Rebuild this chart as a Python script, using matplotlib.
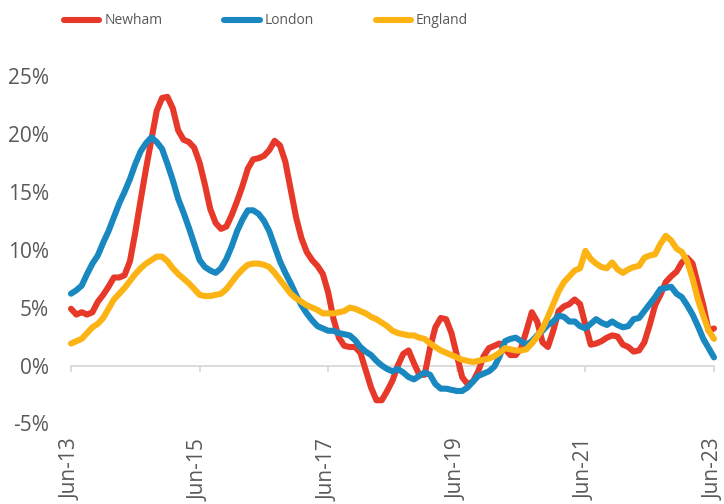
import matplotlib
matplotlib.use("Agg")
import matplotlib.pyplot as plt
from matplotlib import font_manager

# ---------------- data ----------------
series_names = ["Newham", "London", "England"]

newham = [4.9, 4.4, 4.6, 4.4, 4.6, 5.5, 6.1, 6.8, 7.6, 7.6,
          7.8, 9.0, 11.5, 14.3, 17.0, 19.5, 22.0, 23.1, 23.2, 22.2,
          20.3, 19.5, 19.3, 18.8, 17.5, 15.6, 13.5, 12.3, 11.8, 12.0,
          13.0, 14.2, 15.5, 17.0, 17.8, 17.9, 18.1, 18.6, 19.4, 19.0,
          17.6, 15.2, 12.8, 11.0, 9.8, 9.1, 8.6, 7.9, 6.3, 4.0,
          2.4, 1.7, 1.6, 1.6, 1.1, -0.4, -1.9, -3.0, -3.0, -2.2,
          -1.3, 0.0, 1.0, 1.3, 0.2, -0.8, -0.8, 1.5, 3.3, 4.1,
          4.0, 2.8, 0.9, -1.0, -1.6, -1.4, -0.5, 0.8, 1.5, 1.7,
          1.9, 1.4, 0.9, 0.9, 1.5, 3.0, 4.6, 3.8, 2.0, 1.6,
          3.0, 4.7, 5.1, 5.3, 5.7, 5.3, 3.5, 1.8, 1.9, 2.1,
          2.4, 2.6, 2.5, 1.8, 1.6, 1.2, 1.3, 2.0, 3.5, 5.2,
          6.1, 7.2, 7.7, 8.1, 8.9, 9.3, 8.8, 7.0, 5.2, 3.0,
          3.2]

london = [6.2, 6.5, 6.9, 7.9, 8.8, 9.5, 10.6, 11.6, 12.8, 14.0,
          15.0, 16.1, 17.4, 18.5, 19.2, 19.7, 19.3, 18.7, 17.4, 16.0,
          14.4, 13.2, 11.9, 10.5, 9.1, 8.5, 8.2, 8.0, 8.4, 9.2,
          10.3, 11.6, 12.6, 13.4, 13.4, 13.1, 12.5, 11.6, 10.3, 9.0,
          8.0, 7.1, 6.1, 5.2, 4.5, 3.9, 3.4, 3.2, 3.0, 3.0,
          2.8, 2.7, 2.6, 2.2, 1.6, 1.2, 0.9, 0.4, 0.0, -0.3,
          -0.5, -0.3, -0.6, -1.0, -1.2, -0.9, -0.6, -0.8, -1.6, -2.0,
          -2.0, -2.1, -2.2, -2.2, -1.9, -1.4, -0.9, -0.7, -0.5, -0.1,
          0.8, 2.1, 2.3, 2.4, 2.1, 1.8, 2.1, 2.6, 3.0, 3.5,
          3.8, 4.3, 4.2, 3.8, 3.8, 3.4, 3.2, 3.6, 4.0, 3.7,
          3.5, 3.8, 3.5, 3.3, 3.4, 4.0, 4.1, 4.7, 5.3, 5.9,
          6.6, 6.7, 6.8, 6.2, 5.9, 5.2, 4.4, 3.4, 2.3, 1.5,
          0.7]

england = [1.9, 2.1, 2.3, 2.8, 3.3, 3.6, 4.1, 4.9, 5.7, 6.2,
           6.7, 7.3, 7.9, 8.4, 8.8, 9.1, 9.4, 9.4, 9.0, 8.4,
           7.9, 7.5, 7.1, 6.6, 6.1, 6.0, 6.0, 6.1, 6.2, 6.6,
           7.2, 7.8, 8.3, 8.7, 8.8, 8.8, 8.7, 8.5, 8.0, 7.4,
           6.8, 6.2, 5.8, 5.5, 5.2, 5.0, 4.8, 4.5, 4.5, 4.5,
           4.6, 4.7, 5.0, 4.9, 4.7, 4.5, 4.2, 4.0, 3.7, 3.4,
           3.0, 2.8, 2.7, 2.6, 2.6, 2.4, 2.3, 1.9, 1.6, 1.3,
           1.1, 0.9, 0.7, 0.5, 0.4, 0.3, 0.4, 0.5, 0.6, 0.8,
           1.1, 1.5, 1.4, 1.3, 1.3, 1.4, 1.9, 2.5, 3.2, 4.2,
           5.3, 6.4, 7.2, 7.7, 8.2, 8.4, 9.9, 9.2, 8.8, 8.5,
           8.4, 8.9, 8.3, 8.0, 8.3, 8.5, 8.6, 9.3, 9.5, 9.6,
           10.5, 11.2, 10.8, 10.1, 9.8, 9.0, 7.5, 5.7, 4.3, 3.0,
           2.3]

x_tick_pos = [0, 24, 48, 72, 96, 120]
x_tick_labels = ["Jun-13", "Jun-15", "Jun-17", "Jun-19", "Jun-21", "Jun-23"]
y_ticks = [-5, 0, 5, 10, 15, 20, 25]
y_tick_labels = ["-5%", "0%", "5%", "10%", "15%", "20%", "25%"]

colors = ["#E6392A", "#1A88C0", "#FCB415"]
text_color = "#595959"
axis_color = "#D9D9D9"

# ---------------- fonts ----------------
def have(name):
    try:
        font_manager.findfont(name, fallback_to_default=False)
        return True
    except Exception:
        return False

main_font = "Open Sans" if have("Open Sans") else "DejaVu Sans"
if have("Liberation Sans Narrow"):
    legend_font, legend_size = "Liberation Sans Narrow", 12.5
else:
    legend_font, legend_size = main_font, 10

# ---------------- figure ----------------
W, H = 724, 504
fig = plt.figure(figsize=(W / 100, H / 100), dpi=100)
ax = fig.add_axes([71 / W, 80.6 / H, 643 / W, 347.4 / H])

months = list(range(len(newham)))
for vals, name, c in zip([newham, london, england], series_names, colors):
    ax.plot(months, vals, color=c, lw=4.4, label=name,
            solid_capstyle="round", solid_joinstyle="round", clip_on=False)

ax.set_xlim(0, 120)
ax.set_ylim(-5, 25)

for s in ["top", "right", "left"]:
    ax.spines[s].set_visible(False)
ax.spines["bottom"].set_position(("data", 0))
ax.spines["bottom"].set_color(axis_color)
ax.spines["bottom"].set_linewidth(1.3)
ax.spines["bottom"].set_zorder(0)

ax.set_xticks(x_tick_pos)
ax.tick_params(axis="x", length=4, width=1.3, color=axis_color,
               direction="out", labelbottom=False)
ax.set_yticks(y_ticks)
ax.set_yticklabels(y_tick_labels)
ax.tick_params(axis="y", length=0, pad=16, labelsize=15, labelcolor=text_color)
for t in ax.get_yticklabels():
    t.set_fontfamily(main_font)

sec = ax.secondary_xaxis("bottom")
sec.set_xticks(x_tick_pos)
sec.set_xticklabels(x_tick_labels, rotation=90)
sec.tick_params(length=0, pad=11, labelsize=15, labelcolor=text_color)
sec.spines["bottom"].set_visible(False)
for t in sec.get_xticklabels():
    t.set_fontfamily(main_font)

leg = fig.legend(loc="center left", bbox_to_anchor=(64 / W, 1 - 21 / H),
                 ncol=3, frameon=False, borderaxespad=0, borderpad=0,
                 handlelength=2.55, handletextpad=0.35, columnspacing=4.45,
                 prop={"family": legend_font, "size": legend_size})
for t in leg.get_texts():
    t.set_color(text_color)
for h in leg.get_lines():
    h.set_linewidth(4.4)
    h.set_solid_capstyle("round")

fig.savefig("out.png", dpi=100)
